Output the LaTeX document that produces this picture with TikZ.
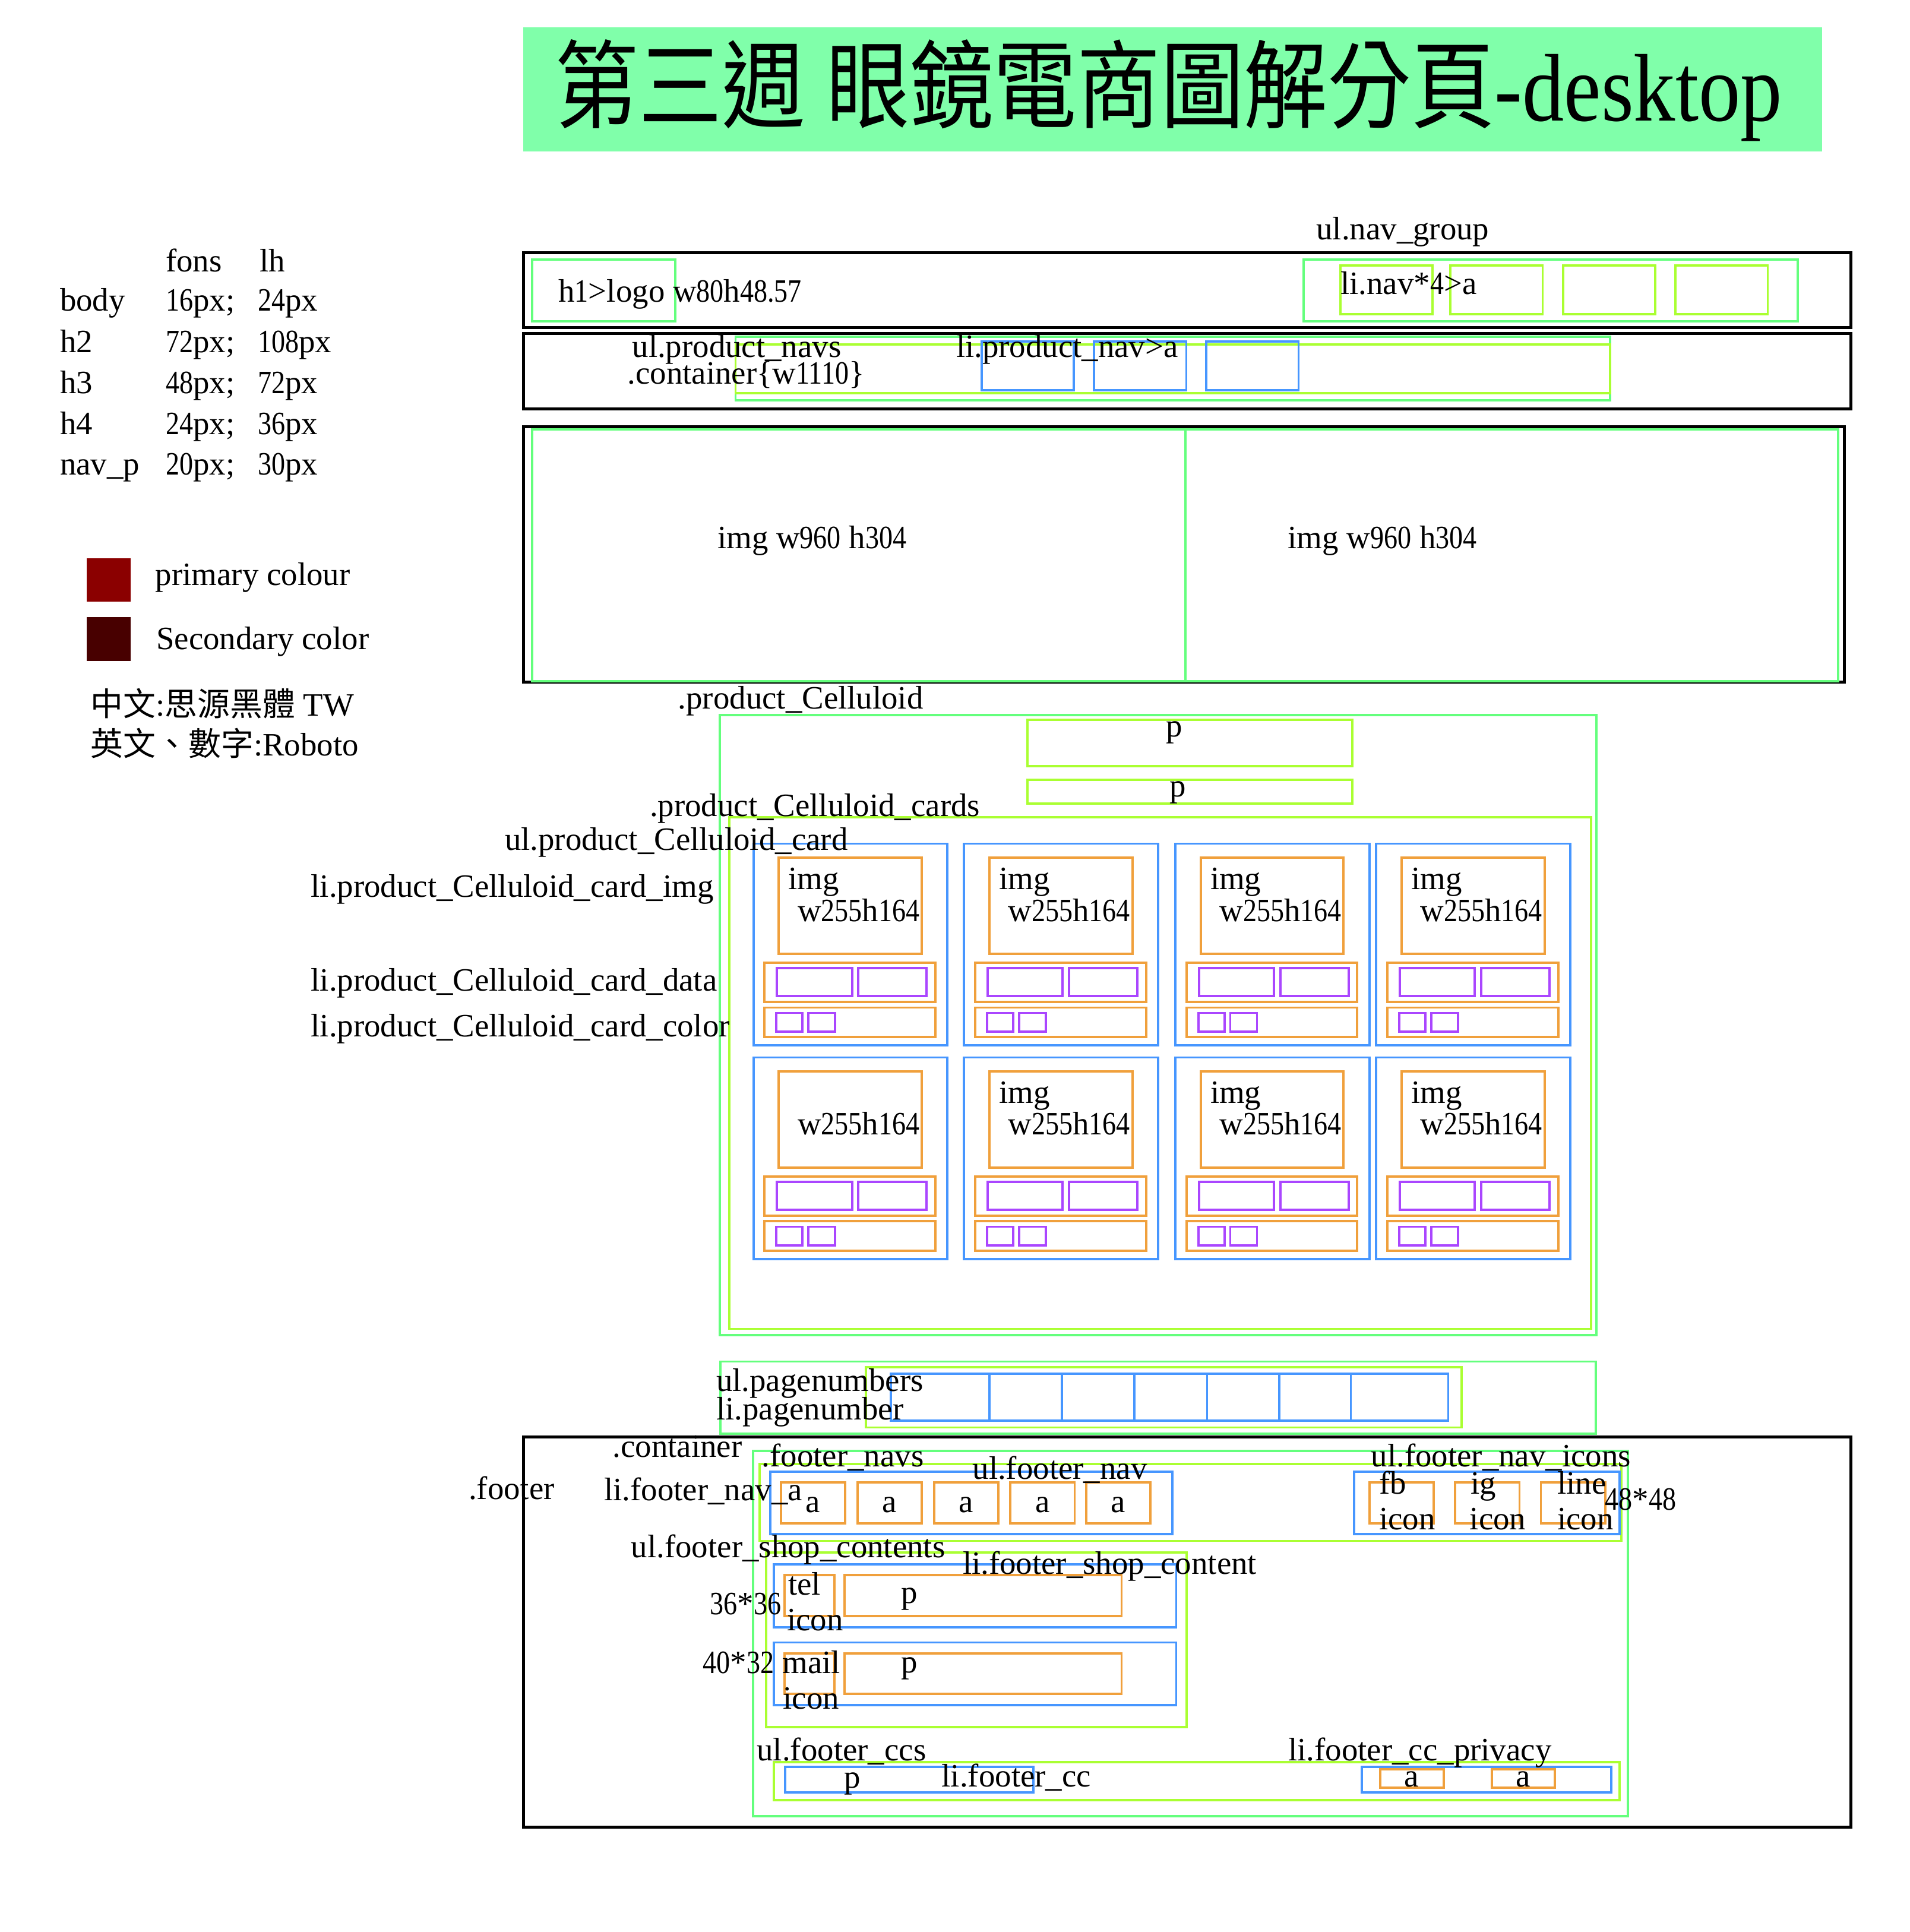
\documentclass[tikz,border=0pt]{standalone}
\usepackage{fontspec}
\setmainfont{Liberation Serif}
\newfontfamily\cjk{Noto Sans CJK TC}
\definecolor{titlegreen}{RGB}{128,255,170}
\definecolor{boxgreen}{RGB}{100,255,125}
\definecolor{boxlime}{RGB}{170,255,50}
\definecolor{boxblue}{RGB}{70,150,255}
\definecolor{boxorange}{RGB}{240,160,60}
\definecolor{boxpurple}{RGB}{170,70,255}
\definecolor{primaryred}{RGB}{139,0,0}
\definecolor{secondred}{RGB}{72,0,0}
\newcommand{\lblfont}{\fontsize{15.6}{17}\selectfont}
% narrow digits
\newcommand{\nd}[1]{\scalebox{0.84}[1]{#1}}

\tikzset{
  pagebox/.style={draw=black, line width=1.4pt},
  wrapbox/.style={draw=boxgreen, line width=1.1pt},
  rowbox/.style={draw=boxlime, line width=1.1pt},
  listbox/.style={draw=boxblue, line width=1.1pt},
  itembox/.style={draw=boxorange, line width=1.1pt},
  tagbox/.style={draw=boxpurple, line width=1.1pt},
  lbl/.style={anchor=base west, inner sep=0pt, font=\lblfont},
  mid/.style={anchor=base, inner sep=0pt, font=\lblfont}
}

\begin{document}
\begin{tikzpicture}[x=0.2074mm, y=-0.2074mm]
            \useasboundingbox (0,0) rectangle (1550,1568);

            % Title
            \fill[titlegreen] (424.7,22) rectangle (1478.6,123);
            \node[anchor=base, inner sep=0pt] (title) at (948.5,98)
                {\fontsize{40}{40}\selectfont\scalebox{1}[1.15]{{\cjk 第三週} {\cjk 眼鏡電商圖解分頁}-desktop}};

            % Font table
            \node[lbl] (fons) at (134.2,220.6) {fons};
            \node[lbl] (lh) at (210.3,220.6) {lh};
            \foreach \nm/\fs/\lh/\yb [count=\k] in {body/16/24/252.4, h2/72/108/286.1, h3/48/72/319.4, h4/24/36/352.6, nav\_p/20/30/385.2}{
                \node[lbl] (tag-\k) at (48.4,\yb) {\nm};
                \node[lbl] (fs-\k) at (134.2,\yb) {\nd{\fs}px;};
                \node[lbl] (lh-\k) at (209,\yb) {\nd{\lh}px};
            }

            % Colours and fonts
            \fill[primaryred] (70.6,453) rectangle (106,488.4);
            \fill[secondred] (70.6,500.7) rectangle (106,536.6);
            \node[lbl] (primary) at (125.9,475.2) {primary colour};
            \node[lbl] (second) at (126.6,527.3) {Secondary color};
            \node[lbl] (zhfont) at (73.3,581) {{\cjk 中文}:{\cjk 思源黑體} TW};
            \node[lbl] (enfont) at (73.3,613.5) {{\cjk 英文、數字}:Roboto};

            % Header
            \draw[pagebox] (425,205.2) rectangle (1502,266);
            \draw[wrapbox] (432,210.7) rectangle (548,260.8);
            \draw[wrapbox] (1058,210.7) rectangle (1459,260.8);
            \foreach \nx in {1087.7,1177,1268.5,1359.7}
                \draw[rowbox] (\nx,215.5) rectangle ++(75,39.5);
            \node[lbl] (navgroup) at (1068,194.5) {ul.nav\_group};
            \node[lbl] (logo) at (453,245) {h\nd{1}>logo w\nd{80}h\nd{48.57}};
            \node[lbl] (navli) at (1087.7,238.7) {li.nav*\nd{4}>a};

            % Product navs
            \draw[pagebox] (425,270.6) rectangle (1502,331.8);
            \draw[wrapbox] (597,273.4) rectangle (1306.6,325);
            \draw[rowbox] (597,279.6) rectangle (1306.6,319);
            \foreach \px in {796.6,887.8,978.9}
                \draw[listbox] (\px,277.2) rectangle ++(75,39.4);
            \node[lbl] (pnavs) at (512.8,290) {ul.product\_navs};
            \node[lbl] (pcont) at (509,311.8) {.container\{w\nd{1110}\}};
            \node[lbl] (pnav) at (775.7,290) {li.product\_nav>a};

            % Banner
            \draw[pagebox] (425,346.5) rectangle (1497,553.5);
            \draw[wrapbox] (432,348.5) rectangle (962,553);
            \draw[wrapbox] (962,348.5) rectangle (1492,553);
            \node[lbl] (bannerL) at (582,445) {img w\nd{960} h\nd{304}};
            \node[lbl] (bannerR) at (1045,445) {img w\nd{960} h\nd{304}};

            % Celluloid
            \draw[wrapbox] (584.4,580.4) rectangle (1295.8,1083.5);
            \draw[rowbox] (833.9,584) rectangle (1097.5,622);
            \draw[rowbox] (833.9,633) rectangle (1097.5,652.3);
            \draw[rowbox] (591.8,663.3) rectangle (1291.4,1078.5);
            \foreach \cx [count=\i] in {611.5,782.5,954,1117}{
                \foreach \cy [count=\j] in {684.7,858.2}{
                    \draw[listbox] (\cx,\cy) rectangle ++(157.5,163.5);
                    \draw[itembox] (\cx+20.5,\cy+11.5) rectangle ++(116,78);
                    \draw[itembox] (\cx+9,\cy+96.6) rectangle ++(138.6,31.8);
                    \draw[tagbox] (\cx+19,\cy+100.8) rectangle ++(61,23);
                    \draw[tagbox] (\cx+85.2,\cy+100.8) rectangle ++(55.4,23);
                    \draw[itembox] (\cx+9,\cy+133) rectangle ++(138.6,24);
                    \draw[tagbox] (\cx+18.5,\cy+137.4) rectangle ++(21.4,15.3);
                    \draw[tagbox] (\cx+44.5,\cy+137.4) rectangle ++(21.7,15.3);
                    \node[lbl] (size-\i-\j) at (\cx+35.5,\cy+62.9) {w\nd{255}h\nd{164}};
                }
            }
            \foreach \cx [count=\i] in {611.5,782.5,954,1117}
                \node[lbl] (img-\i) at (\cx+28,721.8) {img};
            \foreach \cx [count=\i] in {782.5,954,1117}
                \node[lbl] (imgb-\i) at (\cx+28,895.3) {img};
            \node[mid] (ptop) at (953,598) {p};
            \node[mid] (psub) at (956,646.6) {p};
            \node[lbl] (cell) at (550,575.5) {.product\_Celluloid};
            \node[lbl] (cards) at (527,662.4) {.product\_Celluloid\_cards};
            \node[lbl] (card) at (409.4,690.2) {ul.product\_Celluloid\_card};
            \node[lbl] (cardimg) at (252,728) {li.product\_Celluloid\_card\_img};
            \node[lbl] (carddata) at (252,804.4) {li.product\_Celluloid\_card\_data};
            \node[lbl] (cardcolor) at (252,841.4) {li.product\_Celluloid\_card\_color};

            % Page numbers
            \draw[wrapbox] (584.7,1105) rectangle (1295,1163.5);
            \draw[rowbox] (702.9,1109.6) rectangle (1186.3,1158.5);
            \foreach \ga/\gb in {723.2/803.2, 803.2/861.8, 861.8/920.8, 920.8/979.7, 979.7/1038.3, 1038.3/1096.3, 1096.3/1175.4}
                \draw[listbox] (\ga,1115) rectangle (\gb,1153);
            \node[lbl] (pages) at (581,1129) {ul.pagenumbers};
            \node[lbl] (page) at (581,1152.3) {li.pagenumber};

            % Footer
            \draw[pagebox] (425,1166.4) rectangle (1502,1483);
            \draw[wrapbox] (611.3,1177.6) rectangle (1321,1473.8);
            \draw[rowbox] (616.6,1188) rectangle (1316,1250.6);
            \draw[listbox] (625.3,1194.6) rectangle (951.6,1245);
            \foreach \ax [count=\i] in {633.8,696,758,820,881.5}{
                \draw[itembox] (\ax,1203.2) rectangle ++(52.2,33.2);
                \node[mid] (fa-\i) at (\ax+26.1,1227.5) {a};
            }
            \draw[listbox] (1099,1194.6) rectangle (1314.3,1245);
            \foreach \ix in {1111.5,1181,1250.6}
                \draw[itembox] (\ix,1203.2) rectangle ++(52.2,33.2);
            \draw[rowbox] (621.8,1259.8) rectangle (963,1401.5);
            \draw[listbox] (628,1269.6) rectangle (954.6,1320.7);
            \draw[listbox] (628,1333) rectangle (954.6,1383.7);
            \draw[itembox] (636.9,1278.2) rectangle (677.2,1311.7);
            \draw[itembox] (685.6,1278.2) rectangle (910.3,1311.7);
            \draw[itembox] (636.9,1341.8) rectangle (677.2,1374.9);
            \draw[itembox] (685.6,1341.8) rectangle (910.3,1374.9);
            \draw[rowbox] (628,1430.2) rectangle (1314.3,1460.9);
            \draw[listbox] (637.4,1434) rectangle (838.7,1454.8);
            \draw[listbox] (1105.3,1434) rectangle (1307.5,1454.8);
            \draw[itembox] (1120,1436) rectangle (1171.6,1451);
            \draw[itembox] (1210.8,1436) rectangle (1262,1451);

            % Footer labels
            \node[lbl] (fcont) at (497,1182.5) {.container};
            \node[lbl] (footer) at (380,1217) {.footer};
            \node[lbl] (fnavs) at (618,1190.5) {.footer\_navs};
            \node[lbl] (fnav) at (789,1200.3) {ul.footer\_nav};
            \node[lbl] (fnava) at (490,1217.8) {li.footer\_nav\_a};
            \node[lbl] (ficons) at (1112.5,1190.5) {ul.footer\_nav\_icons};
            \node[lbl] (fb) at (1119,1212.6) {fb};
            \node[lbl] (fbicon) at (1119,1241.5) {icon};
            \node[lbl] (ig) at (1193.3,1212.6) {ig};
            \node[lbl] (igicon) at (1192.6,1241.5) {icon};
            \node[lbl] (line) at (1263.6,1212.6) {line};
            \node[lbl] (lineicon) at (1263.6,1241.5) {icon};
            \node[lbl] (iconsize) at (1302.4,1225.4) {\nd{48}*\nd{48}};
            \node[lbl] (shops) at (512,1264) {ul.footer\_shop\_contents};
            \node[lbl] (shop) at (781,1277.6) {li.footer\_shop\_content};
            \node[lbl] (tel) at (639.3,1294.5) {tel};
            \node[lbl] (telicon) at (638.4,1323.4) {icon};
            \node[lbl] (telsize) at (576,1310.5) {\nd{36}*\nd{36}};
            \node[mid] (telp) at (738,1301) {p};
            \node[lbl] (mailsize) at (570.2,1358) {\nd{40}*\nd{32}};
            \node[lbl] (mail) at (634.8,1358) {mail};
            \node[lbl] (mailicon) at (635.3,1387) {icon};
            \node[mid] (mailp) at (738,1357.6) {p};
            \node[lbl] (ccs) at (614,1429) {ul.footer\_ccs};
            \node[mid] (ccp) at (692,1451) {p};
            \node[lbl] (cc) at (764,1450) {li.footer\_cc};
            \node[lbl] (privacy) at (1045.3,1429) {li.footer\_cc\_privacy};
            \node[mid] (pa-1) at (1145.8,1450) {a};
            \node[mid] (pa-2) at (1236.4,1450) {a};
        \end{tikzpicture}
\end{document}
